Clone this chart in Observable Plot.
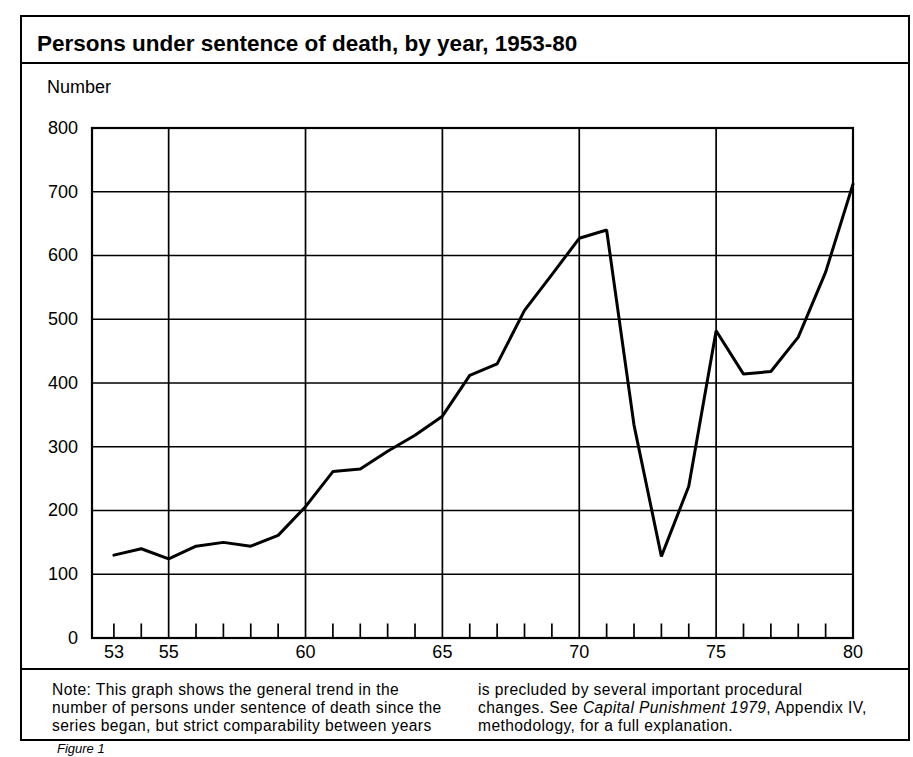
<!DOCTYPE html>
<html>
<head>
<meta charset="utf-8">
<script src="https://cdn.jsdelivr.net/npm/d3@7"></script>
<script src="https://cdn.jsdelivr.net/npm/@observablehq/plot@0.6"></script>
<style>
  html, body { margin: 0; padding: 0; background: #fff; }
  #page { position: relative; width: 913px; height: 757px; overflow: hidden; background: #fff;
          font-family: "Liberation Sans", Arial, Helvetica, sans-serif; color: #000; }
  .box { position: absolute; left: 20px; top: 15px; width: 890px; height: 726px;
         border: 2px solid #000; box-sizing: border-box; z-index: 2; pointer-events: none; }
  .hline { position: absolute; left: 20px; width: 890px; height: 0; border-top: 2px solid #000; z-index: 2; }
  #title { position: absolute; left: 37px; top: 31px; font-size: 22.5px; font-weight: bold; white-space: nowrap; }
  #ylabel { position: absolute; left: 47px; top: 77px; font-size: 18px; white-space: nowrap; }
  #chart { position: absolute; left: 0; top: 95px; z-index: 1; }
  .note { position: absolute; top: 681px; font-size: 15.6px; letter-spacing: 0.4px; line-height: 18px; white-space: nowrap; }
  #fig { position: absolute; left: 57px; top: 742px; font-size: 13px; line-height: 14px; font-style: italic; white-space: nowrap; }
</style>
</head>
<body>
<div id="page">
  <div class="box"></div>
  <div class="hline" style="top:62px"></div>
  <div class="hline" style="top:668px"></div>
  <div id="title">Persons under sentence of death, by year, 1953-80</div>
  <div id="ylabel">Number</div>
  <div id="chart"></div>
  <div class="note" style="left:52px">Note: This graph shows the general trend in the<br>number of persons under sentence of death since the<br>series began, but strict comparability between years</div>
  <div class="note" style="left:478px">is precluded by several important procedural<br>changes. See <i>Capital Punishment 1979</i>, Appendix IV,<br>methodology, for a full explanation.</div>
  <div id="fig">Figure 1</div>
</div>
<script>
// Data
const years  = [53, 54, 55, 56, 57, 58, 59, 60, 61, 62, 63, 64, 65, 66, 67, 68, 69, 70, 71, 72, 73, 74, 75, 76, 77, 78, 79, 80];
const counts = [130, 140, 124, 144, 150, 144, 161, 206, 261, 265, 293, 318, 348, 412, 430, 514, 570, 627, 640, 334, 128, 238, 482, 414, 418, 472, 574, 712];

const yTicks      = [0, 100, 200, 300, 400, 500, 600, 700, 800];
const yGridLines  = [100, 200, 300, 400, 500, 600, 700];
const xTickLabels = [53, 55, 60, 65, 70, 75, 80];
const xGridLines  = [55, 60, 65, 70, 75];
const xMinorTicks = [53, 54, 56, 57, 58, 59, 61, 62, 63, 64, 66, 67, 68, 69, 71, 72, 73, 74, 76, 77, 78, 79];

const series = years.map((yr, i) => ({year: yr, count: counts[i]}));

const chart = Plot.plot({
  width: 913,
  height: 575,
  marginLeft: 91.5,
  marginRight: 60.5,
  marginTop: 32.5,
  marginBottom: 32.5,
  style: {fontFamily: "'Liberation Sans', Arial, Helvetica, sans-serif", fontSize: "18px", color: "#000", background: "none"},
  x: {domain: [52.2, 80]},
  y: {domain: [0, 800]},
  marks: [
    Plot.gridY(yGridLines, {stroke: "#000", strokeOpacity: 1, strokeWidth: 1.7}),
    Plot.gridX(xGridLines, {stroke: "#000", strokeOpacity: 1, strokeWidth: 1.7}),
    Plot.axisX(xMinorTicks, {tickSize: -14, fill: "none", stroke: "#000", strokeWidth: 1.7, label: null}),
    Plot.axisX(xTickLabels, {tickSize: 0, tickPadding: 7, tickFormat: d => String(d), fontSize: 18, fill: "#000", label: null}),
    Plot.axisY(yTicks, {tickSize: 0, tickPadding: 14, tickFormat: d => String(d), fontSize: 18, fill: "#000", label: null}),
    Plot.frame({stroke: "#000", strokeWidth: 2.2}),
    Plot.line(series, {x: "year", y: "count", stroke: "#000", strokeWidth: 3, strokeLinejoin: "miter"})
  ]
});
document.getElementById("chart").appendChild(chart);
</script>
</body>
</html>
